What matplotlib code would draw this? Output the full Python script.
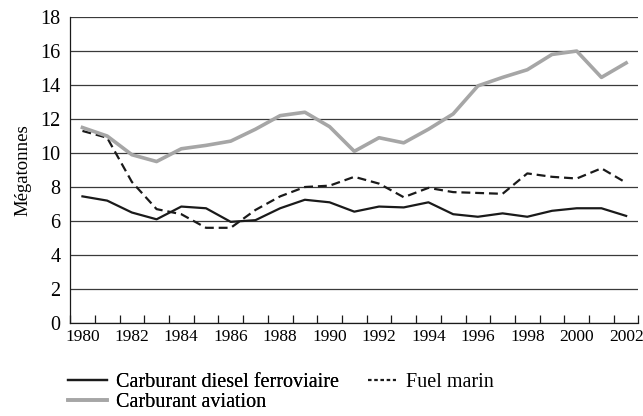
import numpy as np
import matplotlib as mpl
mpl.use('Agg')
import matplotlib.pyplot as plt
from matplotlib.lines import Line2D

mpl.rcParams['font.family'] = ['Liberation Serif', 'DejaVu Serif']
mpl.rcParams['font.size'] = 11

years = list(range(1980, 2003))
diesel = [7.45, 7.2, 6.5, 6.1, 6.85, 6.75, 5.95, 6.05, 6.75, 7.25, 7.1, 6.55,
          6.85, 6.8, 7.1, 6.4, 6.25, 6.45, 6.25, 6.6, 6.75, 6.75, 6.3]
marin = [11.3, 10.9, 8.3, 6.7, 6.4, 5.6, 5.6, 6.65, 7.45, 8.0, 8.08, 8.6,
         8.2, 7.4, 7.95, 7.7, 7.65, 7.6, 8.8, 8.6, 8.5, 9.1, 8.25]
aviation = [11.5, 11.0, 9.9, 9.5, 10.25, 10.45, 10.7, 11.4, 12.2, 12.4, 11.55, 10.1,
            10.9, 10.6, 11.4, 12.3, 13.95, 14.45, 14.9, 15.8, 16.0, 14.45, 15.3]
labels = ['Carburant diesel ferroviaire', 'Fuel marin', 'Carburant aviation']

fig = plt.figure(figsize=(6.43, 4.16), dpi=100)
ax = fig.add_axes([0.109, 0.2236, 0.884, 0.7354])

x = np.arange(len(years))
l1, = ax.plot(x, diesel, color='#1a1a1a', lw=1.6, label=labels[0])
l2, = ax.plot(x, marin, color='#1a1a1a', lw=1.6, ls=(0, (4, 2.2)), label=labels[1])
l3, = ax.plot(x, aviation, color='#a6a6a6', lw=2.6, label=labels[2])

ax.set_xlim(-0.5, len(years) - 0.5)
ax.set_ylim(0, 18)
ax.set_yticks(np.arange(0, 19, 2))
ax.yaxis.grid(True, color='#3a3a3a', lw=0.9)
ax.set_axisbelow(True)
ax.tick_params(axis='y', length=0, pad=7, labelsize=14.5)

ax.set_xticks(x[::2])
ax.set_xticklabels([str(y) for y in years[::2]])
ax.set_xticks(np.arange(-0.5, len(years)), minor=True)
ax.tick_params(axis='x', which='major', length=0, pad=4, labelsize=12.5)
ax.tick_params(axis='x', which='minor', direction='in', length=6, width=0.9, color='#1a1a1a')

for s in ['top', 'right']:
    ax.spines[s].set_visible(False)
for s in ['left', 'bottom']:
    ax.spines[s].set_color('#1a1a1a')
    ax.spines[s].set_linewidth(0.9)

ax.set_ylabel('Mégatonnes', fontsize=13.5, labelpad=6)

# legend: two rows on the left, short dashed handle on the right
leg1 = fig.legend([l1, l3], [labels[0], labels[2]], loc='upper left',
                  bbox_to_anchor=(0.1058, 0.104), frameon=False, fontsize=14.5,
                  handlelength=1.95, handletextpad=0.45, labelspacing=0.05,
                  borderpad=0, borderaxespad=0)
dash = Line2D([], [], color='#1a1a1a', lw=1.6, ls=(0, (1.6, 1.2)))
leg2 = fig.legend([dash], [labels[1]], loc='upper left',
                  bbox_to_anchor=(0.572, 0.104), frameon=False, fontsize=14.5,
                  handlelength=1.4, handletextpad=0.5,
                  borderpad=0, borderaxespad=0)
fig.add_artist(leg1)

fig.savefig('out.png', dpi=100)
